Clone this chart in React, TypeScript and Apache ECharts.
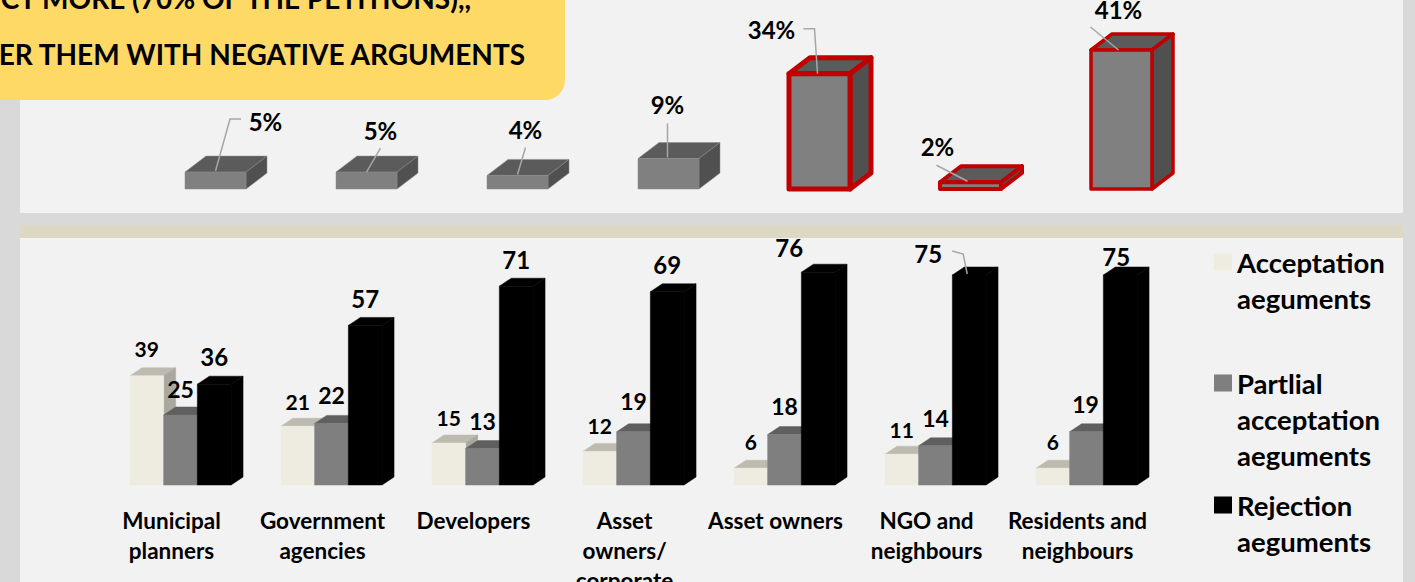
import React, { useEffect, useRef } from "react";
import * as echarts from "echarts";

const categories = [
  "Municipal\nplanners",
  "Government\nagencies",
  "Developers",
  "Asset\nowners/\ncorporate",
  "Asset owners",
  "NGO and\nneighbours",
  "Residents and\nneighbours",
];
const shareValues = [5, 5, 4, 9, 34, 2, 41];
const acceptance = [39, 21, 15, 12, 6, 11, 6];
const partial = [25, 22, 13, 19, 18, 14, 19];
const rejection = [36, 57, 71, 69, 76, 75, 75];

const acceptName = "Acceptation\naeguments";
const partialName = "Partlial\nacceptation\naeguments";
const rejectName = "Rejection\naeguments";
const boxLineOne = "CT MORE (70% OF THE PETITIONS),,";
const boxLineTwo = "ER THEM WITH NEGATIVE ARGUMENTS";

const FONT = "Lato";
// style tables (offsets from each bar's top, line widths)
const shareStroke: Record<number, number> = { 4: 5, 5: 4, 6: 3.5 };
const shareLeaders: number[][][] = [
  [[0, -1], [14.5, -53], [25.5, -53]],
  [[0, 0], [14, -24]],
  [[0, -1], [8, -28]],
  [[-1, -1], [-1, -35]],
  [[-2, 0], [-5, -45], [-16, -45]],
  [[-3, -1], [-34, -17]],
  [[-3, 0], [-31, -23]],
];
const shareLabelOffset = [[50, -51], [14, -42], [8, -46], [-1, -54], [-48, -44], [-33, -36], [-3, -41]];
const acceptOffset = [[0, -27], [0, -25], [0, -26], [0, -26], [0, -27], [0, -25], [0, -27]];
const partialOffset = [[0, -26], [0, -28], [0, -28], [0, -31], [0, -29], [0, -28], [-1, -28]];
const rejectOffset = [[0, -28], [0, -27], [0, -27], [0, -27], [-29, -25], [-41, -22], [-4, -19]];
const rejectLeader: Record<number, number[][]> = { 5: [[-2, -1], [-6, -21], [-17, -24]] };

function shareRender(params: any, api: any) {
  const i = params.dataIndex;
  const v = api.value(1);
  const [cx, top] = api.coord([api.value(0), v]);
  const [, base] = api.coord([api.value(0), 0]);
  const w = (api.size([1, 0])[0] * 61) / 151;
  const x0 = cx - w / 2;
  const x1 = cx + w / 2;
  const dx = 21;
  const dy = 16;
  const sw = shareStroke[i];
  const edge = sw ? { stroke: "#c00000", lineWidth: sw, lineJoin: "round" } : { stroke: "#8a8a8a", lineWidth: 0.5 };
  const leader = shareLeaders[i].map((p) => [cx + p[0], top + p[1]]);
  const lab = shareLabelOffset[i];
  return {
    type: "group",
    children: [
      { type: "polygon", shape: { points: [[x0, top], [x0 + dx, top - dy], [x1 + dx, top - dy], [x1, top]] }, style: { fill: "#5b5b5b", ...edge } },
      { type: "polygon", shape: { points: [[x1, top], [x1 + dx, top - dy], [x1 + dx, base - dy], [x1, base]] }, style: { fill: "#505050", ...edge } },
      { type: "polygon", shape: { points: [[x0, top], [x1, top], [x1, base], [x0, base]] }, style: { fill: "#808080", ...edge } },
      { type: "polyline", shape: { points: leader }, style: { fill: "none", stroke: "#a6a6a6", lineWidth: 1.5 } },
      { type: "text", x: cx + lab[0], y: top + lab[1], style: { text: v + "%", fill: "#000", font: `bold 24px ${FONT}`, align: "center", verticalAlign: "middle" } },
    ],
  };
}

function groupRender(slot: number, front: string, roof: string, side: string, offsets: number[][], leaders: Record<number, number[][]>, fontSize: number) {
  return (params: any, api: any) => {
    const i = params.dataIndex;
    const v = api.value(1);
    const [cx, top] = api.coord([api.value(0), v]);
    const [, base] = api.coord([api.value(0), 0]);
    const w = (api.size([1, 0])[0] * 33.7) / 151;
    const x0 = cx + (slot - 1.5) * w;
    const x1 = x0 + w;
    const dx = 12;
    const dy = 8;
    const mid = (x0 + x1) / 2;
    const off = offsets[i];
    const children: any[] = [
      { type: "polygon", shape: { points: [[x0, top], [x0 + dx, top - dy], [x1 + dx, top - dy], [x1, top]] }, style: { fill: roof, stroke: roof, lineWidth: 0.5 } },
      { type: "polygon", shape: { points: [[x1, top], [x1 + dx, top - dy], [x1 + dx, base - dy], [x1, base]] }, style: { fill: side, stroke: side, lineWidth: 0.5 } },
      { type: "polygon", shape: { points: [[x0, top], [x1, top], [x1, base], [x0, base]] }, style: { fill: front, stroke: front, lineWidth: 0.5 } },
    ];
    if (leaders[i]) {
      children.push({ type: "polyline", shape: { points: leaders[i].map((p) => [mid + p[0], top + p[1]]) }, style: { fill: "none", stroke: "#a6a6a6", lineWidth: 1.5 } });
    }
    children.push({ type: "text", x: mid + off[0], y: top + off[1], style: { text: String(v), fill: "#000", font: `bold ${fontSize}px ${FONT}`, align: "center", verticalAlign: "middle" } });
    return { type: "group", children };
  };
}

const pairs = (vals: number[]) => vals.map((v, i) => [i, v]);
const legendStyle = {
  fontFamily: FONT,
  fontWeight: "bold" as const,
  fontSize: 27.5,
  lineHeight: 36,
  color: "#000",
};
const legendBase = {
  selectedMode: false,
  left: 1214,
  padding: 0,
  itemWidth: 18,
  itemHeight: 17,
  itemGap: 0,
  textStyle: legendStyle,
};

export default function App() {
  const ref = useRef<HTMLDivElement>(null);
  useEffect(() => {
    document.body.style.margin = "0";
    document.body.style.overflow = "hidden";
    const chart = echarts.init(ref.current!, undefined, { renderer: "svg" });
    chart.setOption({
      animation: false,
      backgroundColor: "#d9d9d9",
      graphic: [
        { type: "rect", z: 0, shape: { x: 20, y: 0, width: 1383, height: 213 }, style: { fill: "#f2f2f2" } },
        { type: "rect", z: 0, shape: { x: 20, y: 225, width: 1383, height: 13 }, style: { fill: "#ddd8c3" } },
        { type: "rect", z: 0, shape: { x: 20, y: 238, width: 1383, height: 344 }, style: { fill: "#f2f2f2" } },
        { type: "rect", z: 10, shape: { x: -40, y: -40, width: 605, height: 140, r: [0, 0, 20, 0] }, style: { fill: "#ffd966" } },
        { type: "text", z: 11, x: 471, y: -2, style: { text: boxLineOne, fill: "#000", font: `bold 28px ${FONT}`, align: "right", verticalAlign: "middle" } },
        { type: "text", z: 11, x: 525, y: 54, style: { text: boxLineTwo, fill: "#000", font: `bold 28px ${FONT}`, align: "right", verticalAlign: "middle" } },
      ],
      legend: [
        { ...legendBase, top: 208, data: [{ name: acceptName, icon: "rect" }], formatter: (n: string) => "\n" + n },
        { ...legendBase, top: 293, data: [{ name: partialName, icon: "rect" }], formatter: (n: string) => "\n\n" + n },
        { ...legendBase, top: 451, data: [{ name: rejectName, icon: "rect" }], formatter: (n: string) => "\n" + n },
      ],
      grid: [
        { left: 140, width: 1057, top: 19.5, height: 169.5, outerBoundsMode: "none" },
        { left: 105, width: 1057, top: 261, height: 224, outerBoundsMode: "none" },
      ],
      xAxis: [
        { type: "category", gridIndex: 0, data: categories, show: false },
        {
          type: "category",
          gridIndex: 1,
          data: categories,
          axisLine: { show: false },
          axisTick: { show: false },
          axisLabel: {
            interval: 0,
            margin: 20,
            hideOverlap: false,
            fontFamily: FONT,
            fontWeight: "bold",
            fontSize: 22.5,
            lineHeight: 30,
            color: "#000",
            padding: [0, 18, 0, 0],
          },
        },
      ],
      yAxis: [
        { type: "value", gridIndex: 0, min: 0, max: 50, show: false },
        { type: "value", gridIndex: 1, min: 0, max: 80, show: false },
      ],
      series: [
        { type: "custom", name: "Share of petitions", xAxisIndex: 0, yAxisIndex: 0, data: pairs(shareValues), encode: { x: 0, y: 1 }, renderItem: shareRender },
        { type: "custom", name: acceptName, xAxisIndex: 1, yAxisIndex: 1, data: pairs(acceptance), encode: { x: 0, y: 1 }, itemStyle: { color: "#eeece1" }, renderItem: groupRender(0, "#eeece1", "#bdbbb0", "#a9a89e", acceptOffset, {}, 21) },
        { type: "custom", name: partialName, xAxisIndex: 1, yAxisIndex: 1, data: pairs(partial), encode: { x: 0, y: 1 }, itemStyle: { color: "#7f7f7f" }, renderItem: groupRender(1, "#7f7f7f", "#5f5f5f", "#555555", partialOffset, {}, 23) },
        { type: "custom", name: rejectName, xAxisIndex: 1, yAxisIndex: 1, data: pairs(rejection), encode: { x: 0, y: 1 }, itemStyle: { color: "#000000" }, renderItem: groupRender(2, "#000000", "#000000", "#000000", rejectOffset, rejectLeader, 24) },
      ],
    });
    return () => chart.dispose();
  }, []);
  return <div ref={ref} style={{ position: "fixed", left: 0, top: 0, width: 1415, height: 582 }} />;
}
